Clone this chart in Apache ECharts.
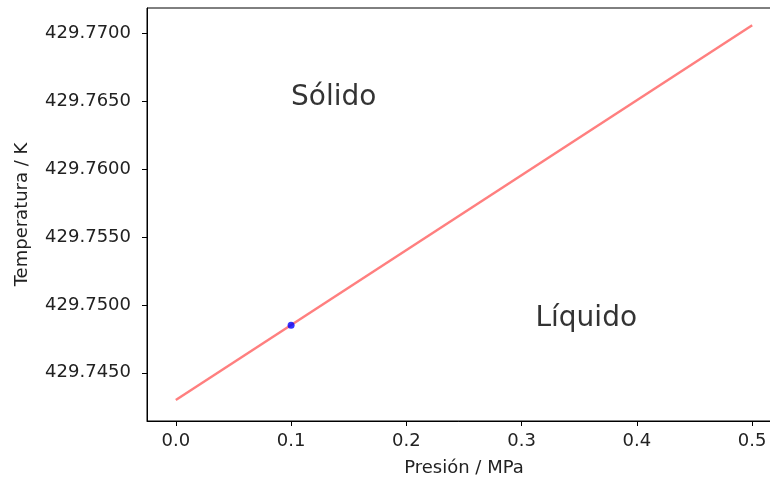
<!DOCTYPE html>
<html>
<head>
<meta charset="utf-8">
<script src="https://cdn.jsdelivr.net/npm/echarts@6/dist/echarts.min.js"></script>
<style>html,body{margin:0;padding:0;background:#fff;}#c{width:770px;height:483px;}</style>
</head>
<body>
<div id="c"></div>
<script>
// Data
const lineP = [0.0, 0.5];                 // MPa
const lineT = [429.7430, 429.7706];       // K
const pointP = [0.1];
const pointT = [429.7485];
const xTicks = [0.0, 0.1, 0.2, 0.3, 0.4, 0.5];
const yTicks = [429.7450, 429.7500, 429.7550, 429.7600, 429.7650, 429.7700];
const annotText = ['Sólido', 'Líquido'];
const annotP = [0.1, 0.312];
const annotT = [429.7650, 429.7487];

const FONT = 'DejaVu Sans';
const chart = echarts.init(document.getElementById('c'), null, {renderer: 'canvas'});
chart.setOption({
  animation: false,
  backgroundColor: '#fff',
  textStyle: {fontFamily: FONT},
  grid: {left: 147, width: 634, top: 8, height: 413, outerBoundsMode: 'none', containLabel: false,
    show: true, borderColor: '#000', borderWidth: 1, backgroundColor: 'transparent'},
  xAxis: {
    type: 'value', min: -0.025, max: 0.525,
    name: 'Presión / MPa', nameLocation: 'middle', nameGap: 38,
    nameTextStyle: {fontFamily: FONT, fontSize: 18, color: '#222'},
    axisLine: {show: true, onZero: false, lineStyle: {color: '#000', width: 1}},
    axisTick: {show: true, length: 5, lineStyle: {color: '#000'}, customValues: xTicks},
    axisLabel: {fontFamily: FONT, fontSize: 18, color: '#222', margin: 11, customValues: xTicks,
      formatter: v => v.toFixed(1)},
    splitLine: {show: false}
  },
  yAxis: {
    type: 'value', min: 429.74145, max: 429.77187,
    name: 'Temperatura / K', nameLocation: 'middle', nameGap: 116, nameRotate: 90,
    nameTextStyle: {fontFamily: FONT, fontSize: 18, color: '#222'},
    axisLine: {show: true, onZero: false, lineStyle: {color: '#000', width: 1}},
    axisTick: {show: true, length: 5, lineStyle: {color: '#000'}, customValues: yTicks},
    axisLabel: {fontFamily: FONT, fontSize: 18, color: '#222', margin: 16, customValues: yTicks,
      formatter: v => v.toFixed(4)},
    splitLine: {show: false}
  },
  series: [
    {
      type: 'line', data: lineP.map((p, i) => [p, lineT[i]]),
      showSymbol: false, symbol: 'none',
      lineStyle: {color: 'rgba(255,0,0,0.5)', width: 2.5}, z: 2
    },
    {
      type: 'scatter', data: pointP.map((p, i) => [p, pointT[i]]),
      symbol: 'circle', symbolSize: 7, itemStyle: {color: '#0000ff'}, z: 3
    },
    {
      type: 'scatter', data: annotP.map((p, i) => ({value: [p, annotT[i]], name: annotText[i]})),
      symbolSize: 0, silent: true,
      label: {show: true, position: 'right', distance: 0, formatter: '{b}',
        fontFamily: FONT, fontSize: 28, color: '#000', verticalAlign: 'bottom', offset: [0, 10]}
    }
  ]
});
</script>
</body>
</html>
